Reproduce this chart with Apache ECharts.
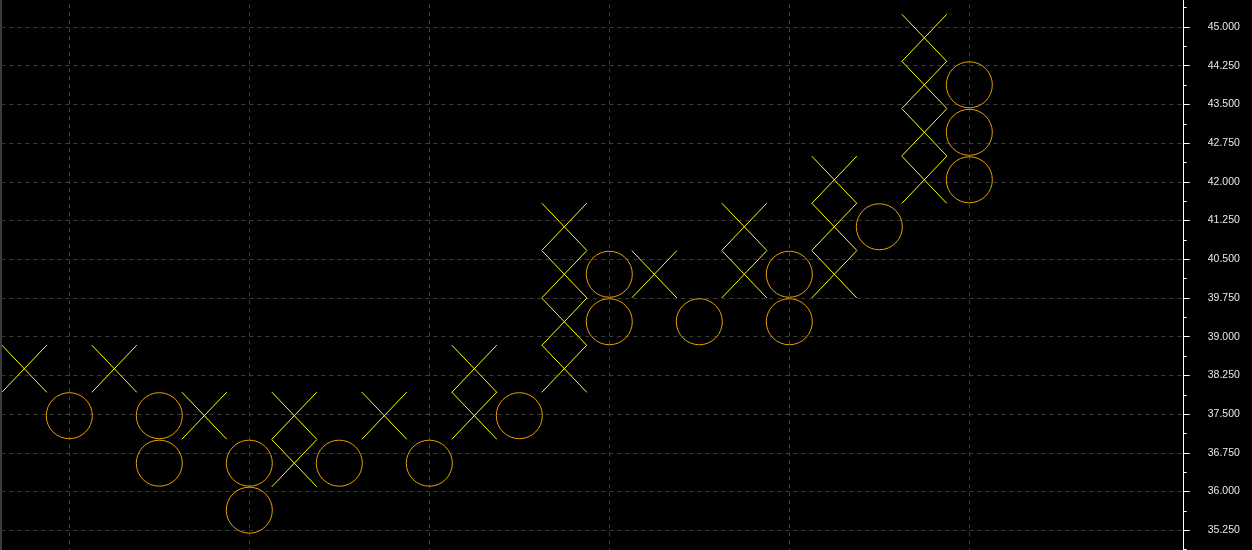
<!DOCTYPE html>
<html>
<head>
<meta charset="utf-8">
<style>
  html, body { margin: 0; padding: 0; background: #000; }
  #chart { width: 1252px; height: 550px; }
</style>
<script src="https://cdn.jsdelivr.net/npm/echarts@6/dist/echarts.min.js"></script>
</head>
<body>
<div id="chart"></div>
<script>
// Point & figure boxes: [column index, box price]
const xBoxes = [
  [0, 38.38],
  [2, 38.38],
  [4, 37.47],
  [6, 36.55], [6, 37.47],
  [8, 37.47],
  [10, 37.47], [10, 38.38],
  [12, 38.38], [12, 39.29], [12, 40.21], [12, 41.13],
  [14, 40.21],
  [16, 40.21], [16, 41.13],
  [18, 40.21], [18, 41.13], [18, 42.04],
  [20, 42.04], [20, 42.96], [20, 43.88], [20, 44.79]
];
const oBoxes = [
  [1, 37.47],
  [3, 37.47], [3, 36.55],
  [5, 36.55], [5, 35.64],
  [7, 36.55],
  [9, 36.55],
  [11, 37.47],
  [13, 40.21], [13, 39.29],
  [15, 39.29],
  [17, 40.21], [17, 39.29],
  [19, 41.13],
  [21, 43.88], [21, 42.96], [21, 42.04]
];
const BOX_SIZE = 0.915;

const chart = echarts.init(document.getElementById('chart'), null, { renderer: 'canvas' });

function renderX(params, api) {
  const p = api.coord([api.value(0), api.value(1)]);
  const s = api.size([1, BOX_SIZE]);
  const w = s[0] / 2, h = s[1] / 2;
  const st = { stroke: '#ffff00', lineWidth: 1, fill: null };
  return {
    type: 'group',
    children: [
      { type: 'line', shape: { x1: p[0] - w, y1: p[1] - h, x2: p[0] + w, y2: p[1] + h }, style: st },
      { type: 'line', shape: { x1: p[0] - w, y1: p[1] + h, x2: p[0] + w, y2: p[1] - h }, style: st }
    ]
  };
}
function renderO(params, api) {
  const p = api.coord([api.value(0), api.value(1)]);
  const s = api.size([1, BOX_SIZE]);
  return {
    type: 'circle',
    shape: { cx: p[0], cy: p[1], r: s[1] / 2 - 0.6 },
    style: { stroke: '#e6a000', lineWidth: 1, fill: null }
  };
}

const gridLineStyle = { color: '#3c3c3c', type: [4, 4], width: 1 };

const option = {
  backgroundColor: '#000000',
  animation: false,
  grid: [
    { left: -110.7, right: 68.3, top: -11.7, height: 580.7, outerBoundsMode: 'none', containLabel: false },
    { left: -110.7, width: 1080, top: -11.7, height: 580.7, outerBoundsMode: 'none', containLabel: false }
  ],
  xAxis: [
    {
      type: 'value', gridIndex: 0, min: -3, max: 25.764,
      axisLine: { show: false }, axisTick: { show: false },
      axisLabel: { show: false }, splitLine: { show: false }
    },
    {
      type: 'value', gridIndex: 1, min: -4, max: 20, interval: 4,
      axisLine: { show: false }, axisTick: { show: false }, axisLabel: { show: false },
      splitLine: { show: true, lineStyle: gridLineStyle }
    }
  ],
  yAxis: [
    {
      type: 'value', gridIndex: 0, position: 'right', min: 34.5, max: 45.75, interval: 0.75,
      axisLine: { show: true, onZero: false, lineStyle: { color: '#ffffff', width: 1 } },
      axisTick: { show: true, length: 6, lineStyle: { color: '#ffffff' } },
      minorTick: { show: true, splitNumber: 2, length: 3, lineStyle: { color: '#ffffff' } },
      axisLabel: {
        color: '#e8e8e8', fontFamily: 'Liberation Sans, Arial, sans-serif', fontSize: 10.5,
        margin: 24,
        formatter: v => v.toFixed(3)
      },
      splitLine: { show: true, lineStyle: gridLineStyle }
    },
    {
      type: 'value', gridIndex: 1, min: 34.5, max: 45.75,
      axisLine: { show: false, onZero: false }, axisTick: { show: false },
      axisLabel: { show: false }, splitLine: { show: false }
    }
  ],
  graphic: [
    { type: 'rect', left: 0, top: 0, shape: { width: 2, height: 550 }, style: { fill: '#3c3c3c' }, z: 100 }
  ],
  series: [
    { type: 'custom', name: 'X', xAxisIndex: 0, yAxisIndex: 0, renderItem: renderX, data: xBoxes, encode: { x: 0, y: 1 }, clip: false },
    { type: 'custom', name: 'O', xAxisIndex: 0, yAxisIndex: 0, renderItem: renderO, data: oBoxes, encode: { x: 0, y: 1 }, clip: false }
  ]
};
chart.setOption(option);
</script>
</body>
</html>
